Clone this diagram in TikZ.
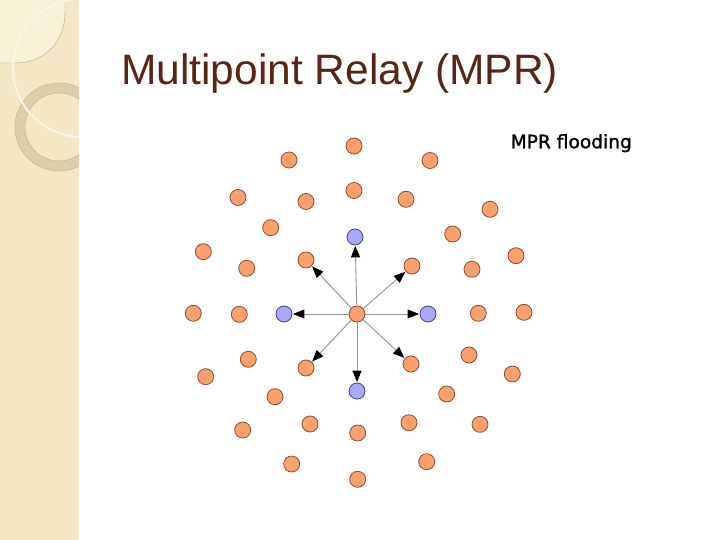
\documentclass[tikz,border=0pt]{standalone}
\usepackage{fontspec}
\newfontfamily\titlefont{Liberation Sans}
\newfontfamily\labelfont[BoldFont={DejaVu Sans},BoldFeatures={FakeBold=1.4}]{DejaVu Sans}
\usetikzlibrary{arrows.meta}
\definecolor{strip}{RGB}{244,231,198}
\definecolor{stripl}{RGB}{249,240,216}
\definecolor{ringc}{RGB}{222,206,170}
\definecolor{titlec}{RGB}{88,38,24}
\definecolor{nodeo}{RGB}{250,160,108}
\definecolor{nodeob}{RGB}{140,78,48}
\definecolor{nodeb}{RGB}{168,168,246}
\definecolor{nodebb}{RGB}{70,70,140}
\tikzset{
  onode/.style={circle,draw=nodeob,fill=nodeo,line width=0.8pt,minimum size=16pt,inner sep=0pt},
  bnode/.style={onode,draw=nodebb,fill=nodeb},
  flood/.style={draw=gray!85,line width=0.9pt,-{Triangle[color=black,length=11.5pt,width=9pt]},shorten >=0.5pt}
}

\begin{document}
\begin{tikzpicture}[x=1pt,y=-1pt]
\useasboundingbox (0,0) rectangle (720,540);
\fill[white] (0,0) rectangle (720,540);
% left strip
\fill[strip] (0,0) rectangle (79,540);
\begin{scope}
\clip (0,0) rectangle (79,540);
\fill[stripl] (0,0) -- (65,0) -- (65,12) .. controls (65,42) and (45,63) .. (15,63) -- (0,63) -- cycle;
\draw[ringc!80!black,line width=0.4pt] (65,0) -- (65,12) .. controls (65,42) and (45,63) .. (15,63) -- (0,63);
\fill[ringc,even odd rule] (59,127) circle (44) (59,127) circle (34);
\draw[ringc!85!black,line width=0.4pt] (59,127) circle (44) (59,127) circle (34);
\draw[white!60!strip,line width=2pt] (82,68) circle (69);
\end{scope}
% titles
\node[anchor=base west,inner sep=0pt,text=titlec,font=\titlefont\fontsize{42.5}{48}\selectfont] (title) at (121,85) {Multipoint Relay (MPR)};
\node[anchor=base west,inner sep=0pt,font=\labelfont\bfseries\fontsize{18.6}{22}\selectfont] (lbl) at (510.5,148.3) {MPR flooding};
% source and its neighbours
\node[onode] (src) at (357,314) {};
\node[bnode] (bn) at (355,237) {};
\node[bnode] (bw) at (284,314) {};
\node[bnode] (be) at (428,314) {};
\node[bnode] (bs) at (357,391) {};
\node[onode] (onw) at (306,260) {};
\node[onode] (one) at (412,266) {};
\node[onode] (osw) at (306,368) {};
\node[onode] (ose) at (411,364) {};
% other nodes
\foreach \x/\y [count=\i] in {354/146, 289/160, 430/160.5,
  238/197.5, 354/190.5, 306/201.5, 406/199.3, 490/209.3,
  270.7/227.7, 452.7/234, 203.3/251.7, 516/255.7, 246.7/268.3, 472/269.3,
  193.3/313.3, 239.3/314.3, 478.3/313.3, 524/312.3,
  248.3/359.3, 469/355, 205.7/376.7, 512.3/374,
  275/396.7, 446.7/394, 242.7/430, 310/424, 357.7/433, 409/422.7, 480/424.3,
  291.7/464, 426.7/461.7, 357.7/479.3}
  \node[onode] (o\i) at (\x,\y) {};
% flooding
\draw[flood] (src) -- (bn);
\draw[flood] (src) -- (bw);
\draw[flood] (src) -- (be);
\draw[flood] (src) -- (bs);
\draw[flood] (src) -- (onw);
\draw[flood] (src) -- (one);
\draw[flood] (src) -- (osw);
\draw[flood] (src) -- (ose);
\end{tikzpicture}
\end{document}
